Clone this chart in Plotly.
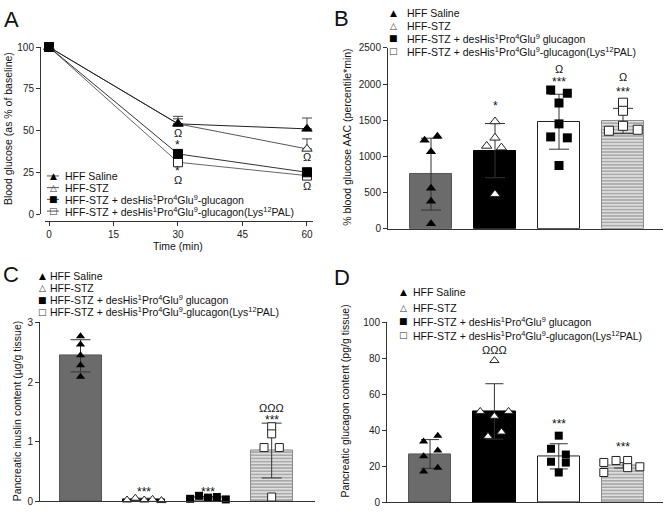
import plotly.graph_objects as go

W, H = 667, 515
FONT = "Liberation Sans, Arial, sans-serif"
GLYPH = "DejaVu Sans, sans-serif"

# ---------------- data ----------------
group_names_a = [
    "HFF Saline",
    "HFF-STZ",
    "HFF-STZ + desHis<sup>1</sup>Pro<sup>4</sup>Glu<sup>9</sup>-glucagon",
    "HFF-STZ + desHis<sup>1</sup>Pro<sup>4</sup>Glu<sup>9</sup>-glucagon(Lys<sup>12</sup>PAL)",
]
group_names = [
    "HFF Saline",
    "HFF-STZ",
    "HFF-STZ + desHis<sup>1</sup>Pro<sup>4</sup>Glu<sup>9</sup> glucagon",
    "HFF-STZ + desHis<sup>1</sup>Pro<sup>4</sup>Glu<sup>9</sup>-glucagon(Lys<sup>12</sup>PAL)",
]

# Panel A: blood glucose (% of baseline)
time_min = [0, 30, 60]
a_saline = [100, 54, 51]
a_saline_err = [0, 4.5, 6.5]
a_stz = [100, 54, 39]
a_stz_err = [0, 3, 6]
a_deshis = [100, 36, 25]
a_deshis_err = [0, 2, 2.5]
a_lys = [100, 31, 23]
a_lys_err = [0, 1.5, 1.5]
a_marks = [(30, 48.5, "Ω"), (30, 41.5, "*"), (30, 26.0, "*"), (30, 20.5, "Ω"),
           (60, 34, "Ω"), (60, 17, "Ω")]

# Panel B: blood glucose AAC
b_means = [755, 1080, 1480, 1490]
b_sd = [497, 375, 380, 175]
b_saline = [1225, 1280, 1065, 560, 380, 70]
b_stz = [1483, 1257, 1145, 1122, 477]
b_deshis = [1919, 1874, 1739, 1450, 1270, 1257, 874]
b_lys = [1743, 1631, 1423, 1355, 1369]
b_marks = [(1, 1693, "*"), (2, 2205, "Ω"), (2, 2030, "***"), (3, 2105, "Ω"), (3, 1890, "***")]

# Panel C: pancreatic insulin
c_means = [2.44, 0.03, 0.06, 0.85]
c_sd = [0.27, 0.02, 0.02, 0.46]
c_saline = [2.77, 2.63, 2.45, 2.28, 2.09]
c_stz = [0.02, 0.05, 0.02, 0.03, 0.01]
c_deshis = [0.04, 0.09, 0.06, 0.07, 0.03]
c_lys = [1.25, 1.13, 0.90, 0.90, 0.07]
c_marks = [(1, 0.15, "***"), (2, 0.15, "***"), (3, 1.37, "***"), (3, 1.57, "ΩΩΩ")]

# Panel D: pancreatic glucagon
d_means = [26.8, 50.5, 25.5, 20.5]
d_sd = [8, 15.4, 7, 1.5]
d_saline = [37, 33.7, 28.8, 25.5, 19.2, 17]
d_stz = [78.8, 50.5, 50.5, 47.8, 39, 36.6]
d_deshis = [37, 29.7, 26.5, 22.5, 22, 16.5]
d_lys = [23.2, 23.2, 22.1, 19.7, 19.2, 16.5]
d_marks = [(1, 84.4, "ΩΩΩ"), (2, 43.3, "***"), (3, 30.6, "***")]

# scatter jitter (layout, in category units)
b_jit = [[-0.1, 0.1, 0, 0, 0, 0], [0, 0, -0.13, 0.1, 0],
         [-0.13, 0.13, 0, 0, -0.13, 0.13, 0], [0, 0, 0, -0.22, 0.23]]
c_jit = [[0, 0, 0, 0, 0], [-0.27, -0.14, 0, 0.13, 0.27],
         [-0.28, -0.14, 0, 0.14, 0.28], [0, 0, -0.12, 0.12, 0]]
d_jit = [[0.12, -0.1, 0.12, -0.1, 0.12, -0.1], [0, -0.22, 0.22, 0, 0.11, -0.1],
         [0, -0.12, 0.11, -0.12, 0.11, 0], [-0.11, 0.07, -0.3, 0.26, 0.07, -0.3]]

# ---------------- styles ----------------
bar_fill = ["#6b6b6b", "#000000", "#ffffff", "#dedede"]
bar_line = ["#555555", "#000000", "#222222", "#8a8a8a"]
bar_pattern = ["", "", "", "-"]
pt_symbol = ["triangle-up", "triangle-up", "square", "square"]
pt_fill = ["#000000", "#ffffff", "#000000", "#ffffff"]
pt_line = ["#000000", "#222222", "#000000", "#222222"]


def fx(p):
    return p / W


def fy(p):
    return 1 - p / H


fig = go.Figure()

# ---------------- Panel A ----------------
a_series = [(a_lys, a_lys_err, 3, "#666666"), (a_deshis, a_deshis_err, 2, "#333333"),
            (a_stz, a_stz_err, 1, "#555555"), (a_saline, a_saline_err, 0, "#222222")]
for vals, err, gi, lc in a_series:
    fig.add_trace(go.Scatter(
        x=time_min, y=vals, mode="lines+markers", xaxis="x", yaxis="y",
        line=dict(color=lc, width=1),
        marker=dict(symbol=pt_symbol[gi], size=9, color=pt_fill[gi],
                    line=dict(color=pt_line[gi] if gi in (1, 3) else "#000", width=1)),
        error_y=dict(type="data", symmetric=False, array=err, arrayminus=[0] * len(err),
                     color="#444", thickness=1, width=5),
        cliponaxis=False, showlegend=False, name=group_names_a[gi]))


def bar_panel(xa, ya, means, sd, pts, jit, size, ew):
    fig.add_trace(go.Bar(
        x=[0, 1, 2, 3], y=means, width=0.66, xaxis=xa, yaxis=ya,
        marker=dict(color=bar_fill, line=dict(color=bar_line, width=1),
                    pattern=dict(shape=bar_pattern, fgcolor="#8c8c8c", size=3.2, solidity=0.35)),
        error_y=dict(type="data", array=sd, color="#333", thickness=1, width=ew),
        showlegend=False))
    for gi, (vals, jj) in enumerate(zip(pts, jit)):
        fig.add_trace(go.Scatter(
            x=[gi + j for j in jj], y=vals, mode="markers", xaxis=xa, yaxis=ya,
            marker=dict(symbol=pt_symbol[gi], size=size, color=pt_fill[gi],
                        line=dict(color=pt_line[gi], width=1 if gi in (1, 3) else 0)),
            cliponaxis=False, showlegend=False, name=group_names[gi]))


bar_panel("x2", "y2", b_means, b_sd, [b_saline, b_stz, b_deshis, b_lys], b_jit, 9, 10)
bar_panel("x3", "y3", c_means, c_sd, [c_saline, c_stz, c_deshis, c_lys], c_jit, 8, 10)
bar_panel("x4", "y4", d_means, d_sd, [d_saline, d_stz, d_deshis, d_lys], d_jit, 8, 9)

# significance marks
for xa, ya, marks in [("x", "y", a_marks), ("x2", "y2", b_marks),
                      ("x3", "y3", c_marks), ("x4", "y4", d_marks)]:
    for xv, yv, t in marks:
        fig.add_annotation(x=xv, y=yv, xref=xa, yref=ya, text=t, showarrow=False,
                           font=dict(family=FONT, size=12 if "*" in t else 11, color="#111"),
                           xanchor="center", yanchor="middle", borderpad=0)

# ---------------- axes ----------------
axc = dict(showgrid=False, zeroline=False, showline=True, linecolor="#333", linewidth=1,
           ticks="outside", ticklen=4, tickcolor="#333", tickwidth=1,
           tickfont=dict(family=FONT, size=10, color="#222"))
noticks = dict(ticks="", showticklabels=False)

fig.update_layout(
    width=W, height=H, margin=dict(l=0, r=0, t=0, b=0), autosize=False,
    paper_bgcolor="white", plot_bgcolor="white", showlegend=False, bargap=0,
    xaxis=dict(**axc, domain=[fx(45), fx(313)], range=[-0.93, 61.4], anchor="free",
               position=fy(220), tickvals=[0, 15, 30, 45, 60]),
    yaxis=dict(**axc, domain=[fy(213), fy(42)], range=[0, 100], anchor="free",
               position=fx(40), tickvals=[0, 25, 50, 75, 100]),
    xaxis2=dict(**{**axc, **noticks}, domain=[fx(388), fx(663)], range=[-0.672, 3.625], anchor="y2"),
    yaxis2=dict(**axc, domain=[fy(228), fy(43)], range=[0, 2500], anchor="x2",
                tickvals=[0, 500, 1000, 1500, 2000, 2500]),
    xaxis3=dict(**{**axc, **noticks}, domain=[fx(40), fx(315)], range=[-0.636, 3.68], anchor="y3"),
    yaxis3=dict(**axc, domain=[fy(507), fy(324)], range=[0, 3], anchor="x3",
                tickvals=[0, 1, 2, 3]),
    xaxis4=dict(**{**axc, **noticks}, domain=[fx(387), fx(663)], range=[-0.669, 3.62], anchor="y4"),
    yaxis4=dict(**axc, domain=[fy(508), fy(324)], range=[0, 100], anchor="x4",
                tickvals=[0, 20, 40, 60, 80, 100]),
)


def pann(x, y, text, size=10.5, xanchor="left", angle=0, family=FONT, color="#111"):
    fig.add_annotation(x=fx(x), y=fy(y), xref="paper", yref="paper", text=text,
                       showarrow=False, xanchor=xanchor, yanchor="middle", textangle=angle,
                       font=dict(family=family, size=size, color=color))


# panel letters
for (lx, ly, t) in [(2, 14, "A"), (332, 13, "B"), (1, 275, "C"), (332, 278, "D")]:
    pann(lx, ly, t, size=22)

# axis titles
pann(8, 126, "Blood glucose (as % of baseline)", size=10.5, xanchor="center", angle=-90)
pann(178, 246, "Time (min)", size=10.5, xanchor="center")
pann(347, 135, "% blood glucose AAC (percentile*min)", size=10.5, xanchor="center", angle=-90)
pann(17, 415, "Pancreatic inuslin content (µg/g tissue)", size=10.5, xanchor="center", angle=-90)
pann(345, 405, "Pancreatic glucagon content (pg/g tissue)", size=10.5, xanchor="center", angle=-90)

# legends
glyphs = ["▲", "△", "■", "□"]
glyph_col = ["#000", "#333", "#000", "#333"]


def legend(gx, tx, rows, names, with_line=False):
    for i, (ry, nm) in enumerate(zip(rows, names)):
        if with_line:
            fig.add_shape(type="line", xref="paper", yref="paper",
                          x0=fx(gx - 6), x1=fx(gx + 6), y0=fy(ry), y1=fy(ry),
                          line=dict(color="#555", width=1))
        pann(gx, ry, glyphs[i], size=9, xanchor="center", family=GLYPH, color=glyph_col[i])
        pann(tx, ry, nm, size=10.5)


legend(53, 63, [174, 186, 198, 210], group_names_a, with_line=True)
legend(393, 405, [7, 20, 33, 46.5], group_names)
legend(42, 48, [276, 289, 301, 313], group_names)
legend(403, 411, [293, 309, 323, 337], group_names)

fig.write_html("out.html",
               config={"displayModeBar": False},
               post_script="document.body.style.margin='0px';"
                           "document.documentElement.style.overflow='hidden';")
